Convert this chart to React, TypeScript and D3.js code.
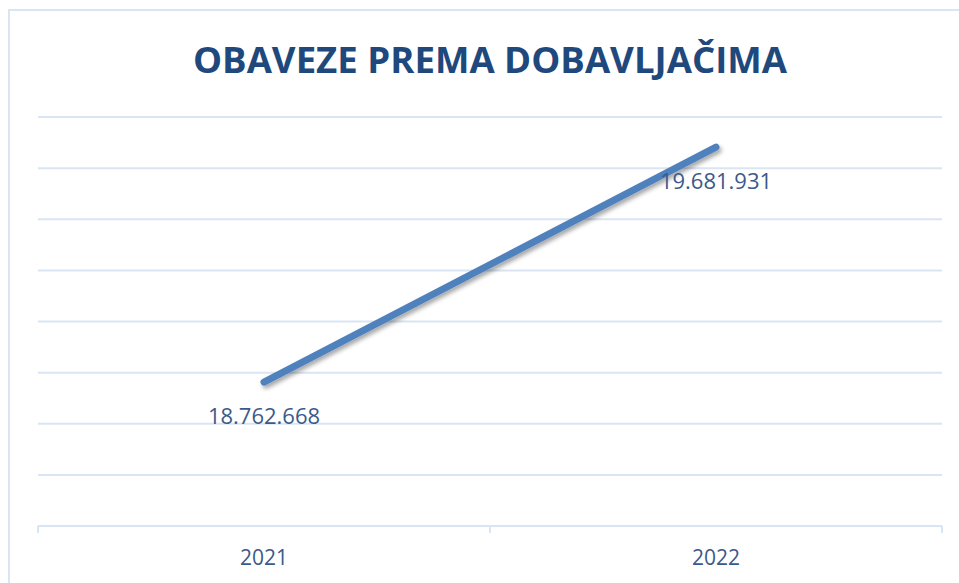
import React from "react";
import * as d3 from "d3";

const title = "OBAVEZE PREMA DOBAVLJAČIMA";
const categories = ["2021", "2022"];
const values = [18762668, 19681931];
const valueLabels = ["18.762.668", "19.681.931"];
const yDomain = [18200000, 19800000];
const yTickStep = 200000;

const W = 959;
const H = 583;
const margin = { left: 38, right: 17, top: 117, bottom: 57 };

export default function App() {
  const x = d3
    .scaleBand<string>()
    .domain(categories)
    .range([margin.left, W - margin.right])
    .paddingInner(0)
    .paddingOuter(0);
  const y = d3
    .scaleLinear()
    .domain(yDomain)
    .range([H - margin.bottom, margin.top]);
  const ticks = d3.range(yDomain[0], yDomain[1] + 1, yTickStep);
  const cx = (c: string) => (x(c) as number) + x.bandwidth() / 2;
  const pts: [number, number][] = categories.map((c, i) => [cx(c), y(values[i])]);
  const line = d3.line();
  const gridColor = "#d9e5f3";
  const textColor = "#3b5a8a";
  const font = "'Open Sans', sans-serif";
  const bottomY = y(yDomain[0]);
  const bandEdges = [margin.left, ...categories.map((c) => (x(c) as number) + x.bandwidth())];

  return (
    <svg
      width={W}
      height={H}
      style={{ position: "absolute", left: 0, top: 0, background: "#fff" }}
    >
      <defs>
        <filter id="sh" x="-20%" y="-20%" width="140%" height="140%">
          <feDropShadow dx="2" dy="3" stdDeviation="2" floodColor="#000" floodOpacity="0.35" />
        </filter>
      </defs>
      <rect x={9} y={10} width={W + 20} height={H + 20} fill="none" stroke={gridColor} strokeWidth={2} />
      <text
        x={(margin.left + W - margin.right) / 2}
        y={73}
        textAnchor="middle"
        fontFamily={font}
        fontWeight={700}
        fontSize={36.6}
        fill="#1f497d"
      >
        {title}
      </text>
      {ticks.slice(1).map((t) => (
        <line key={t} x1={margin.left} x2={W - margin.right} y1={y(t)} y2={y(t)} stroke={gridColor} strokeWidth={2} />
      ))}
      <line x1={margin.left} x2={W - margin.right} y1={bottomY} y2={bottomY} stroke={gridColor} strokeWidth={2} />
      {bandEdges.map((e, i) => (
        <line key={i} x1={e} x2={e} y1={bottomY} y2={bottomY + 7} stroke={gridColor} strokeWidth={2} />
      ))}
      {categories.map((c) => (
        <text key={c} x={cx(c)} y={565} textAnchor="middle" fontFamily={font} fontSize={21} fill={textColor}>
          {c}
        </text>
      ))}
      <path
        d={line(pts) || ""}
        fill="none"
        stroke="#4f81bd"
        strokeWidth={7}
        strokeLinecap="round"
        filter="url(#sh)"
      />
      {pts.map((p, i) => (
        <text key={i} x={p[0]} y={p[1] + 42} textAnchor="middle" fontFamily={font} fontSize={22} fill={textColor}>
          {valueLabels[i]}
        </text>
      ))}
    </svg>
  );
}
